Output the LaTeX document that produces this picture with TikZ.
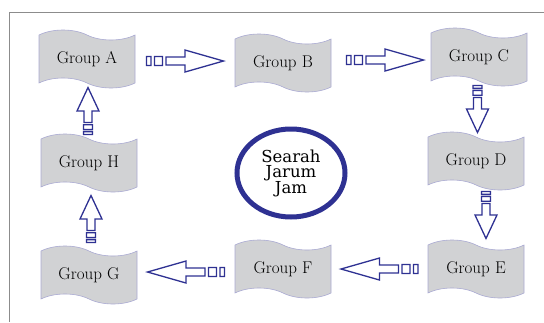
\documentclass[tikz,border=0pt]{standalone}
\usepackage{fontspec}
\newfontfamily\hubfont{DejaVu Serif}
\usetikzlibrary{shapes.symbols,shapes.geometric,calc}

\definecolor{tapegray}{RGB}{209,210,212}
\definecolor{tapeedge}{RGB}{170,170,210}
\definecolor{arrowblue}{RGB}{46,49,146}
\definecolor{framegray}{RGB}{140,140,140}

\tikzstyle{group} = [tape, tape bend top=out and in, tape bend bottom=out and in, tape bend height=10pt, draw=tapeedge, fill=tapegray, line width=0.6pt, minimum width=96pt, minimum height=58pt, font=\fontsize{17}{19}\selectfont]
\tikzstyle{arrline} = [draw=arrowblue, line width=1.3pt, line join=miter]
\tikzstyle{hub} = [ellipse, draw=arrowblue, line width=5pt, minimum width=108pt, minimum height=88pt, align=center, font=\hubfont\fontsize{16.5}{15.5}\selectfont]

\tikzset{
  flowarr/.pic={
    \draw[arrline] (-38.5,-4.5) rectangle (-34,4.5)
                   (-30.5,-4.5) rectangle (-22.5,4.5)
                   (-19,-4) -- (0,-4) -- (0,-11) -- (38.5,0) -- (0,11) -- (0,4) -- (-19,4) -- cycle;
  }
}

\begin{document}
\begin{tikzpicture}[x=1pt, y=1pt]
        \useasboundingbox (0,0) rectangle (544,-322);
        % frame
        \draw[framegray, line width=0.9pt] (544,-12.5) -- (9,-12.5) -- (9,-322);
        % groups round the clock
        \node[group] (A) at (87,-59) {Group A};
        \node[group, right of=A, node distance=196pt, yshift=-4pt] (B) {Group B};
        \node[group, right of=B, node distance=196pt, yshift=6pt] (C) {Group C};
        \node[group, below of=C, node distance=104pt, xshift=-3pt] (D) {Group D};
        \node[group, below of=D, node distance=108pt] (E) {Group E};
        \node[group, left of=E, node distance=193pt] (F) {Group F};
        \node[group, left of=F, node distance=194pt, yshift=-6pt] (G) {Group G};
        \node[group, above of=G, node distance=112pt] (H) {Group H};
        \node[hub] (hub) at (291,-173) {Searah\\Jarum\\Jam};
        % arrows
        \pic at ($(A)!0.5!(B)$) {flowarr};
        \pic[xshift=4pt] at ($(B)!0.5!(C)$) {flowarr};
        \pic[rotate=-90, xscale=0.61] at ($(C)!0.5!(D)$) {flowarr};
        \pic[xshift=10pt, rotate=-90, xscale=0.61] at ($(D)!0.5!(E)$) {flowarr};
        \pic[rotate=180] at ($(E)!0.5!(F)$) {flowarr};
        \pic[rotate=180] at ($(F)!0.5!(G)$) {flowarr};
        \pic[xshift=2pt, rotate=90, xscale=0.61] at ($(G)!0.5!(H)$) {flowarr};
        \pic[rotate=90, xscale=0.61] at ($(H)!0.5!(A)$) {flowarr};
    \end{tikzpicture}
\end{document}
